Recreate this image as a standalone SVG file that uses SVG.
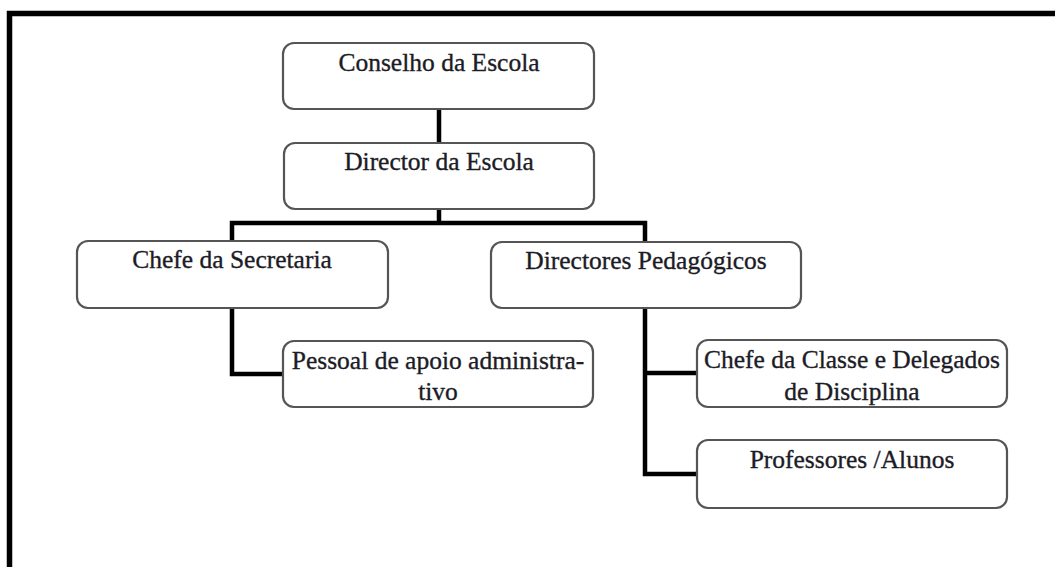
<svg xmlns="http://www.w3.org/2000/svg" width="1055" height="567" viewBox="0 0 1055 567">
<style>
.box{fill:#fff;stroke:#555;stroke-width:2.2}
.lbl{font-family:"Liberation Serif","Times New Roman",serif;font-size:25.5px;fill:#1c1c26;stroke:#1c1c26;stroke-width:0.35;text-anchor:middle}
.conn{fill:none;stroke:#000;stroke-width:4.5;stroke-linejoin:miter}
</style>
<rect width="1055" height="567" fill="#fff"/>
<path d="M9.5,567 V13.5 H1055" fill="none" stroke="#000" stroke-width="5.5"/>
<g id="connectors">
<path class="conn" d="M439,109 V143"/>
<path class="conn" d="M439,209 V223"/>
<path class="conn" d="M232,241 V223 H645 V242"/>
<path class="conn" d="M232,308 V374 H283"/>
<path class="conn" d="M645,308 V474 H697"/>
<path class="conn" d="M645,373 H697"/>
</g>
<g id="conselho">
<rect class="box" x="283" y="43" width="311" height="66" rx="11"/>
<text class="lbl" x="439" y="71">Conselho da Escola</text>
</g>
<g id="director">
<rect class="box" x="284" y="143" width="310" height="66" rx="11"/>
<text class="lbl" x="439" y="170">Director da Escola</text>
</g>
<g id="chefe-secretaria">
<rect class="box" x="77" y="241" width="311" height="67" rx="11"/>
<text class="lbl" x="232" y="268">Chefe da Secretaria</text>
</g>
<g id="directores-pedagogicos">
<rect class="box" x="491" y="242" width="310" height="66" rx="11"/>
<text class="lbl" x="646" y="269">Directores Pedagógicos</text>
</g>
<g id="pessoal-apoio">
<rect class="box" x="283" y="341" width="310" height="66" rx="11"/>
<text class="lbl" x="438" y="369">Pessoal de apoio administra-</text>
<text class="lbl" x="438" y="400">tivo</text>
</g>
<g id="chefe-classe">
<rect class="box" x="697" y="340" width="310" height="67" rx="11"/>
<text class="lbl" x="852" y="368">Chefe da Classe e Delegados</text>
<text class="lbl" x="852" y="400">de Disciplina</text>
</g>
<g id="professores">
<rect class="box" x="697" y="440" width="310" height="68" rx="11"/>
<text class="lbl" x="852" y="468">Professores /Alunos</text>
</g>
</svg>
